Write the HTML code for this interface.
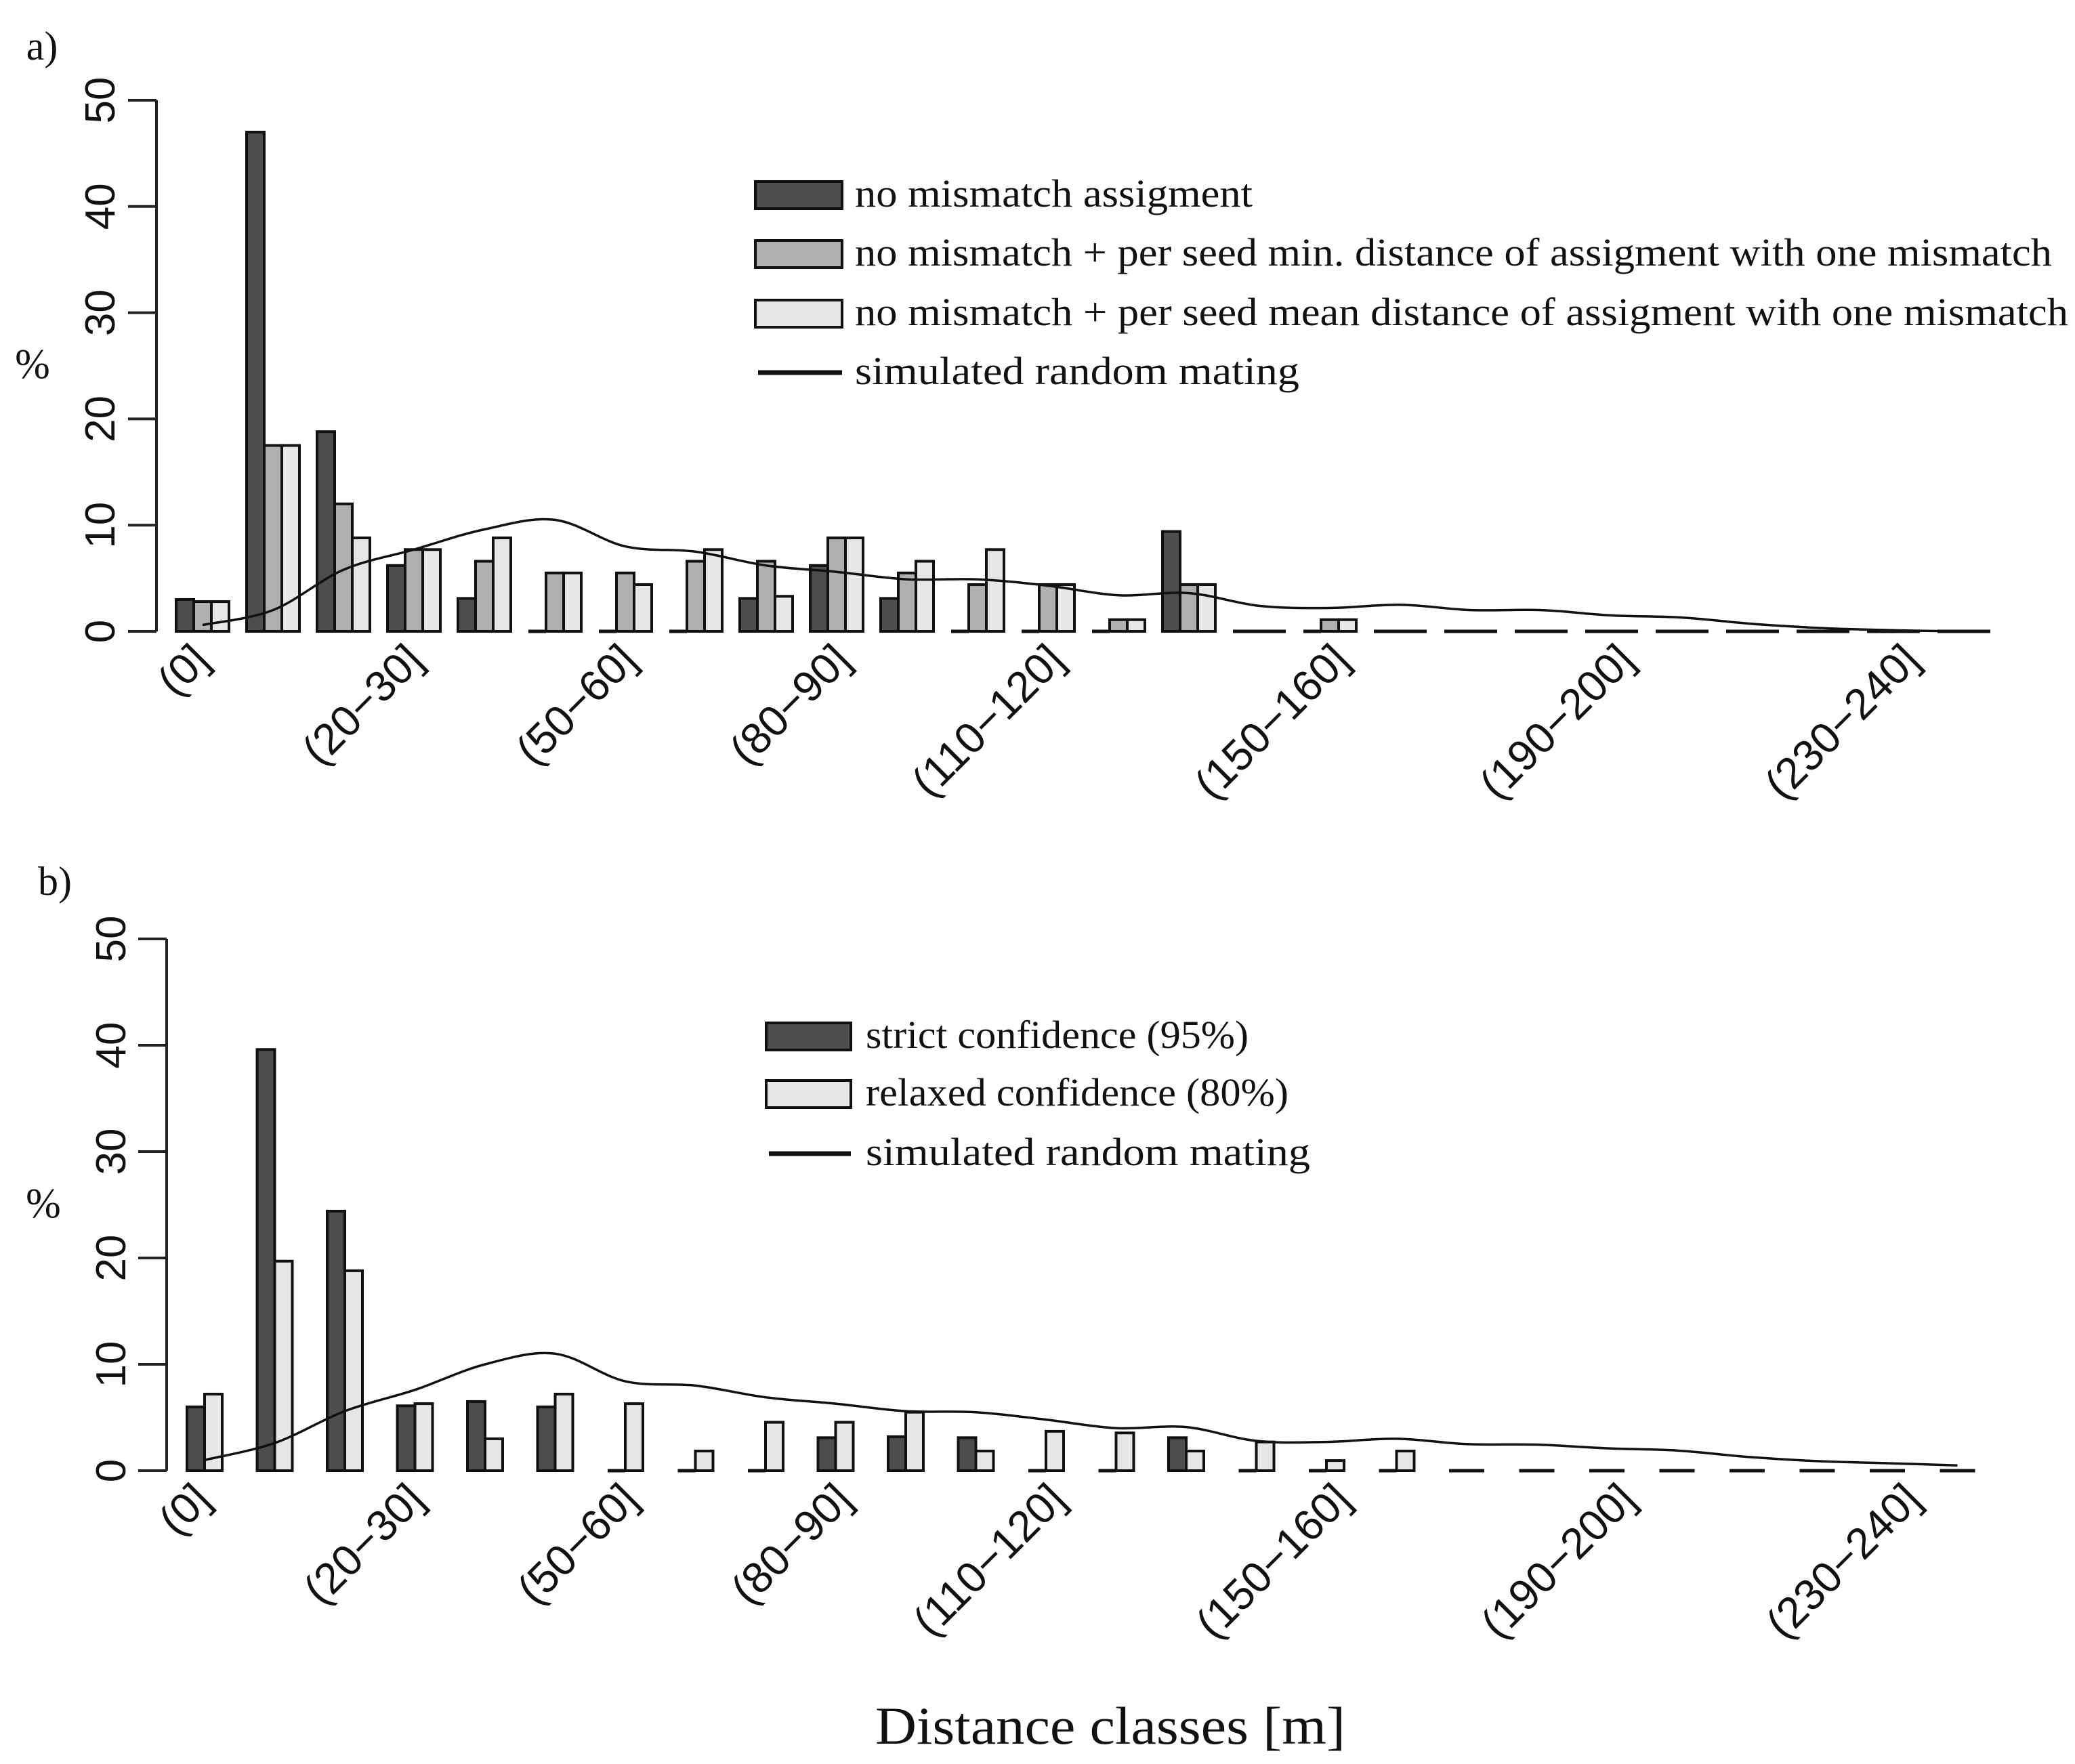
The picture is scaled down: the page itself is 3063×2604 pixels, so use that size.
<!DOCTYPE html>
<html><head><meta charset="utf-8"><style>
html,body{margin:0;padding:0;background:#fff;}
svg{display:block;}
.tk{font-family:"Liberation Sans",sans-serif;font-size:62px;fill:#111;}
.xl{font-family:"Liberation Sans",sans-serif;font-size:64px;fill:#111;}
.sf{font-family:"Liberation Serif",serif;fill:#111;}
</style></head><body>
<svg id="chart" width="3063" height="2604" viewBox="0 0 3063 2604">
<text class="sf" x="62" y="88" font-size="60" text-anchor="middle">a)</text>
<text class="sf" x="81" y="1321" font-size="60" text-anchor="middle">b)</text>
<text class="sf" x="48" y="558" font-size="62" text-anchor="middle">%</text>
<text class="sf" x="64" y="1797" font-size="62" text-anchor="middle">%</text>
<text class="sf" x="1639" y="2574" font-size="78" text-anchor="middle" textLength="694" lengthAdjust="spacingAndGlyphs">Distance classes [m]</text>
<g id="legA"></g>
<g id="legB"></g>
<g id="pa"></g>
<g id="pb"></g>
</svg>
<script>
const categories = ["(0]","(0-10]","(10-20]","(20-30]","(30-40]","(40-50]","(50-60]","(60-70]","(70-80]","(80-90]","(90-100]","(100-110]","(110-120]","(120-130]","(130-140]","(140-150]","(150-160]","(160-170]","(170-180]","(180-190]","(190-200]","(200-210]","(210-220]","(220-230]","(230-240]","(240-250]"];
const tickIdx = [0,3,6,9,12,16,20,24];
const tickLabels = ["(0]","(20\u221230]","(50\u221260]","(80\u221290]","(110\u2212120]","(150\u2212160]","(190\u2212200]","(230\u2212240]"];
const yTicks = [0,10,20,30,40,50];
// Panel a series
const aNoMismatch = [3.0,47,18.8,6.2,3.1,0,0,0,3.1,6.2,3.1,0,0,0,9.4,0,0,0,0,0,0,0,0,0,0,0];
const aMinDist    = [2.8,17.5,12.0,7.7,6.6,5.5,5.5,6.6,6.6,8.8,5.5,4.4,4.4,1.1,4.4,0,1.1,0,0,0,0,0,0,0,0,0];
const aMeanDist   = [2.8,17.5,8.8,7.7,8.8,5.5,4.4,7.7,3.3,8.8,6.6,7.7,4.4,1.1,4.4,0,1.1,0,0,0,0,0,0,0,0,0];
const aRandom     = [0.6,2.0,5.8,7.7,9.6,10.5,8.0,7.5,6.2,5.6,4.9,4.9,4.3,3.4,3.6,2.4,2.2,2.5,2.0,2.0,1.5,1.3,0.7,0.3,0.1,0];
// Panel b series
const bStrict  = [6.0,39.6,24.4,6.1,6.5,6.0,0,0,0,3.1,3.2,3.1,0,0,3.1,0,0,0,0,0,0,0,0,0,0,0];
const bRelaxed = [7.2,19.7,18.8,6.3,3.0,7.2,6.3,1.85,4.55,4.55,5.5,1.85,3.7,3.55,1.85,2.7,0.95,1.85,0,0,0,0,0,0,0,0];
const bRandom  = [1.0,2.6,5.6,7.6,10.0,11.0,8.4,8.0,6.9,6.3,5.6,5.5,4.8,4.0,4.1,2.8,2.7,3.0,2.5,2.45,2.1,1.9,1.3,0.9,0.7,0.5];

const NS="http://www.w3.org/2000/svg";
function mk(parent,tag,attrs,txt){const e=document.createElementNS(NS,tag);for(const k in attrs)e.setAttribute(k,attrs[k]);if(txt!==undefined)e.textContent=txt;parent.appendChild(e);return e;}
const fills=["#4d4d4d","#b0b0b0","#e6e6e6"];

function smoothPath(pts){
  let d="M"+pts[0][0].toFixed(1)+","+pts[0][1].toFixed(1);
  for(let i=0;i<pts.length-1;i++){
    const p0=pts[Math.max(0,i-1)],p1=pts[i],p2=pts[i+1],p3=pts[Math.min(pts.length-1,i+2)];
    const c1=[p1[0]+(p2[0]-p0[0])/6,p1[1]+(p2[1]-p0[1])/6];
    const c2=[p2[0]-(p3[0]-p1[0])/6,p2[1]-(p3[1]-p1[1])/6];
    d+=" C"+c1[0].toFixed(1)+","+c1[1].toFixed(1)+" "+c2[0].toFixed(1)+","+c2[1].toFixed(1)+" "+p2[0].toFixed(1)+","+p2[1].toFixed(1);
  }
  return d;
}

function panel(g,cfg){
  const y=v=>cfg.y0-v*cfg.unit;
  const gx=k=>cfg.x0+cfg.period*k;
  const ax=mk(g,"line",{x1:cfg.axisX,x2:cfg.axisX,y1:y(0),y2:y(50),stroke:"#222","stroke-width":4});
  
  
  yTicks.forEach(t=>{
    const tl=mk(g,"line",{x1:cfg.axisX-42,x2:cfg.axisX,y1:y(t),y2:y(t),stroke:"#222","stroke-width":4});
    
    
    const tx=mk(g,"text",{class:"tk",x:0,y:0,"text-anchor":"middle",transform:"translate("+cfg.tickTextX+","+y(t)+") rotate(-90)"},String(t));
    
    
  });
  cfg.series.forEach((s,si)=>{
    s.forEach((v,k)=>{
      const bx=gx(k)+cfg.bw*si;
      if(v>0){
        const r=mk(g,"rect",{x:bx,y:y(v),width:cfg.bw,height:v*cfg.unit,fill:fills[cfg.fillIdx[si]],stroke:"#111","stroke-width":4});
        
        
      } else {
        const l=mk(g,"line",{x1:bx,x2:bx+cfg.bw,y1:y(0),y2:y(0),stroke:"#111","stroke-width":5});
        
        
      }
    });
  });
  const pts=cfg.line.map((v,k)=>[gx(k)+cfg.bw*cfg.series.length/2,y(v)]);
  const p=mk(g,"path",{d:smoothPath(pts),fill:"none",stroke:"#111","stroke-width":3.5});
  
  
  tickIdx.forEach((k,i)=>{
    const lx=cfg.labX0+cfg.labPeriod*k;
    const t=mk(g,"text",{class:"xl",x:0,y:0,"text-anchor":"end",transform:"translate("+lx+","+(cfg.y0+cfg.labDy)+") rotate(-45)"},tickLabels[i]);
    
    
  });
}

panel(document.getElementById("pa"),{y0:932,unit:15.68,x0:260,period:104,bw:26,axisX:231,tickTextX:169,
  series:[aNoMismatch,aMinDist,aMeanDist],fillIdx:[0,1,2],names:["no-mismatch","min-distance","mean-distance"],
  line:aRandom,labX0:312,labPeriod:105.2,labDy:46});
panel(document.getElementById("pb"),{y0:2171,unit:15.7,x0:276,period:103.5,bw:26,axisX:246,tickTextX:185,
  series:[bStrict,bRelaxed],fillIdx:[0,2],names:["strict","relaxed"],
  line:bRandom,labX0:314,labPeriod:105.2,labDy:46});

function legend(g,x0,bw,tx,items){
  items.forEach(it=>{
    if(it.fill){
      const r=mk(g,"rect",{x:x0,y:it.cy-20,width:bw,height:40,fill:it.fill,stroke:"#111","stroke-width":4});
      
      
    } else {
      const l=mk(g,"line",{x1:x0+4,x2:x0+bw,y1:it.cy,y2:it.cy,stroke:"#111","stroke-width":7});
      
      
    }
    const t=mk(g,"text",{class:"sf",x:tx,y:it.cy+17,"font-size":58,textLength:it.w,lengthAdjust:"spacingAndGlyphs"},it.label);
    
    
  });
}
legend(document.getElementById("legA"),1115,128,1262,[
  {cy:288,fill:fills[0],label:"no mismatch assigment",w:587},
  {cy:375,fill:fills[1],label:"no mismatch + per seed min. distance of assigment with one mismatch",w:1767},
  {cy:463,fill:fills[2],label:"no mismatch + per seed mean distance of assigment with one mismatch",w:1791},
  {cy:550,fill:null,label:"simulated random mating",w:656}]);
legend(document.getElementById("legB"),1131,125,1278,[
  {cy:1530,fill:fills[0],label:"strict confidence (95%)",w:565},
  {cy:1615,fill:fills[2],label:"relaxed confidence (80%)",w:624},
  {cy:1703,fill:null,label:"simulated random mating",w:656}]);
</script>
</body></html>
